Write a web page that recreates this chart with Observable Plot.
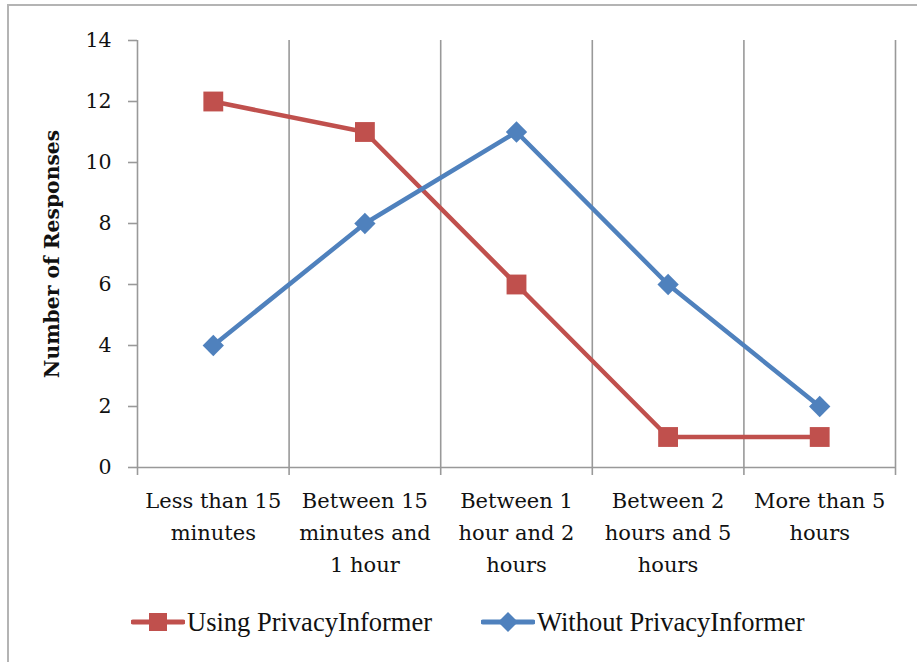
<!DOCTYPE html>
<html>
<head>
<meta charset="utf-8">
<script src="https://cdn.jsdelivr.net/npm/d3@7"></script>
<script src="https://cdn.jsdelivr.net/npm/@observablehq/plot@0.6"></script>
<style>
  html, body { margin: 0; padding: 0; background: #fff; overflow: hidden; }
  #wrap { position: relative; width: 917px; height: 662px; }
  #frame { position: absolute; left: 7px; top: 4px; width: 930px; height: 700px;
           border-left: 2px solid #b4b4b4; border-top: 2px solid #b4b4b4; }
  #chart { position: absolute; left: 0; top: 0; }
  #legend { position: absolute; left: 0; top: 604px; width: 917px; height: 36px;
            font-family: "Liberation Serif", serif; font-size: 26.5px; color: #111; }
  .item { position: absolute; top: 0; display: flex; align-items: center; height: 36px; }
  .item svg { margin-right: 2px; }
</style>
</head>
<body>
<div id="wrap">
  <div id="frame"></div>
  <div id="chart"></div>
  <div id="legend"></div>
</div>
<script>
const categories = [
  "Less than 15\nminutes",
  "Between 15\nminutes and\n1 hour",
  "Between 1\nhour and 2\nhours",
  "Between 2\nhours and 5\nhours",
  "More than 5\nhours"
];
const usingValues = [12, 11, 6, 1, 1];
const withoutValues = [4, 8, 11, 6, 2];
const seriesNames = ["Using PrivacyInformer", "Without PrivacyInformer"];
const seriesColors = ["#C0504D", "#4F81BD"];
const yTicks = [0, 2, 4, 6, 8, 10, 12, 14];
const yLabel = "Number of Responses";

const idx = categories.map((c, i) => i);
const boundaries = d3.range(categories.length + 1);
const usingRows = categories.map((c, i) => ({pos: i + 0.5, value: usingValues[i]}));
const withoutRows = categories.map((c, i) => ({pos: i + 0.5, value: withoutValues[i]}));

const gridColor = "#999999";
const chart = Plot.plot({
  width: 917,
  height: 590,
  marginLeft: 137,
  marginRight: 22,
  marginTop: 40,
  marginBottom: 123,
  style: {fontFamily: "'DejaVu Serif', serif", background: "transparent", color: "#111"},
  x: {type: "linear", domain: [0, categories.length]},
  y: {type: "linear", domain: [0, 14]},
  marks: [
    // vertical grid lines at category boundaries
    Plot.ruleX(boundaries, {x: d => d, y1: 0, y2: 14, stroke: gridColor, strokeWidth: 1.6}),
    // bottom axis line
    Plot.ruleY([0], {x1: 0, x2: categories.length, stroke: gridColor, strokeWidth: 1.6}),
    Plot.axisY({ticks: yTicks, tickSize: 9, tickPadding: 17, fontSize: 20.5, stroke: gridColor, strokeWidth: 1.6, label: null, fill: "#111"}),
    Plot.axisX({ticks: boundaries, tickSize: 8, tickFormat: () => "", stroke: gridColor, strokeWidth: 1.6, label: null}),
    // category labels
    Plot.text(idx, {x: i => i + 0.5, y: 0, text: i => categories[i], lineAnchor: "top", dy: 18, fontSize: 21, lineHeight: 1.52, fill: "#111"}),
    // y label
    Plot.text([yLabel], {frameAnchor: "left", textAnchor: "middle", rotate: -90, dx: -85, fontSize: 20.3, fontWeight: "bold", fill: "#111"}),
    // lines
    Plot.line(usingRows, {x: "pos", y: "value", stroke: seriesColors[0], strokeWidth: 4.5}),
    Plot.line(withoutRows, {x: "pos", y: "value", stroke: seriesColors[1], strokeWidth: 4.5}),
    Plot.dot(usingRows, {x: "pos", y: "value", symbol: "square", r: 11.2, fill: seriesColors[0], stroke: "none"}),
    Plot.dot(withoutRows, {x: "pos", y: "value", symbol: "diamond2", r: 9.6, fill: seriesColors[1], stroke: "none"})
  ]
});
document.getElementById("chart").appendChild(chart);

// legend
const legend = document.getElementById("legend");
const legendLeft = [131, 481];
seriesNames.forEach((name, i) => {
  const item = document.createElement("div");
  item.className = "item";
  item.style.left = legendLeft[i] + "px";
  const sym = i === 0
    ? `<rect x="18" y="8" width="18" height="18" fill="${seriesColors[i]}"/>`
    : `<path d="M27 7 L37 17 L27 27 L17 17 Z" fill="${seriesColors[i]}"/>`;
  item.innerHTML = `<svg width="54" height="34"><line x1="2" y1="17" x2="52" y2="17" stroke="${seriesColors[i]}" stroke-width="5" stroke-linecap="round"/>${sym}</svg><span>${name}</span>`;
  legend.appendChild(item);
});
</script>
</body>
</html>
